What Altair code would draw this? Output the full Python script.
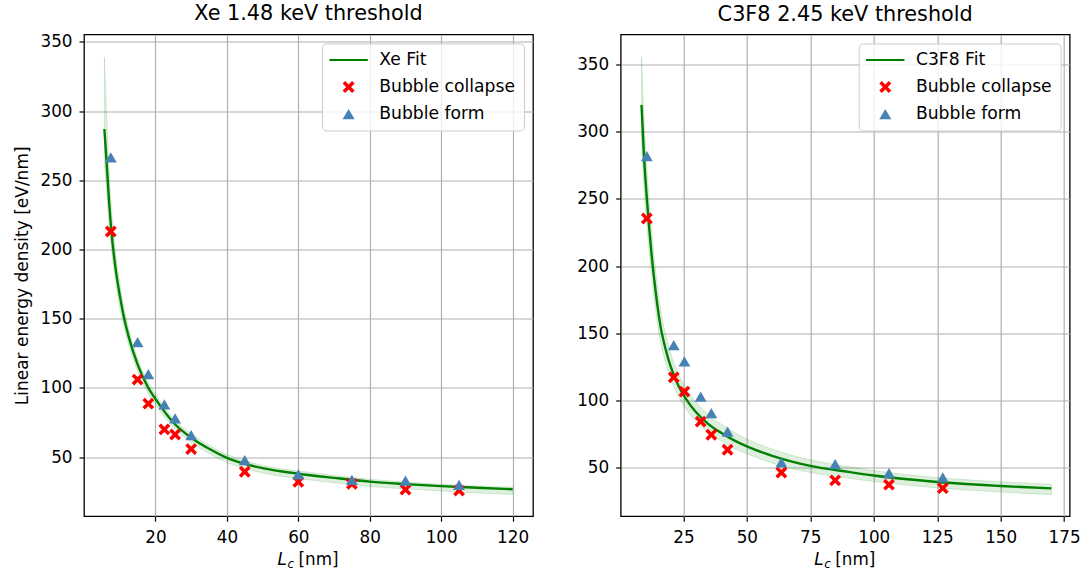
import altair as alt
import pandas as pd

# ---------------- data ----------------
xe_lc = [7.5, 15, 18, 22.5, 25.5, 30, 45, 60, 75, 90, 105]
xe_collapse = [213, 106, 88.6, 70, 66.3, 55.8, 39.4, 32.2, 30.6, 26.5, 25.8]
xe_form = [266.5, 133, 110, 88, 78, 65.8, 47.8, 37.5, 33.5, 33, 30]

xe_fit_x = [5.7, 6.3, 7.0, 7.5, 8.5, 10, 11.1, 12.5, 15, 18, 20, 25, 30, 35, 40, 50, 60, 70, 80, 90, 100, 110, 120]
xe_fit_y = [287, 264, 235, 218, 193, 167, 152, 137, 117, 100, 92, 75, 64, 56, 49.5, 42, 38, 35, 32.3, 30.5, 29, 27.8, 26.8]
xe_fit_hi = [339, 300, 259, 237, 206, 176, 159, 143, 121, 104, 95.5, 78, 67, 58.5, 52, 44, 40, 36.8, 34, 32, 30.4, 29.2, 28.2]
xe_fit_lo = [262, 243, 219, 205, 183, 158, 145, 131, 112, 95.5, 88, 71.5, 60.5, 52.5, 46, 38.5, 34.5, 31.5, 28.8, 27, 25.5, 24, 23]

c3_lc = [10.6, 21.2, 25.4, 31.8, 36.0, 42.4, 63.6, 84.8, 106.0, 127.2]
c3_collapse = [235.4, 117, 106.4, 84, 74.2, 63, 46.1, 40.2, 37, 34.4]
c3_form = [282, 141, 129, 102.7, 90.3, 76.6, 53.6, 52.3, 45.6, 42.4]

c3_fit_x = [8.5, 9.5, 10.5, 11.5, 12.5, 14, 16, 18, 20, 23, 26, 30, 35, 40, 45, 50, 60, 75, 90, 100, 125, 150, 170]
c3_fit_y = [320, 281, 253, 229, 208, 182, 155, 138, 125, 111, 101, 91, 82, 75.5, 70, 65.5, 58.5, 51, 46.5, 43.8, 39, 36, 34.2]
c3_fit_hi = [356, 310, 276, 249, 226, 198, 168, 149, 135, 120, 109, 98.5, 89, 82, 76, 71, 63.5, 55.5, 50.5, 47.5, 42.3, 39.2, 37.3]
c3_fit_lo = [292, 258, 233, 211, 192, 168, 143, 128, 116, 103, 93.5, 84, 75.5, 69.5, 64, 60, 53, 46, 41.8, 39.3, 34.6, 31.5, 29.5]

xe_ticks_x = [20, 40, 60, 80, 100, 120]
c3_ticks_x = [25, 50, 75, 100, 125, 150, 175]
ticks_y = [50, 100, 150, 200, 250, 300, 350]

FONT = "DejaVu Sans"
FS = 16.8
LINE_PATH = "M-3.2,-0.17H3.2V0.17H-3.2Z"
X_PATH = ("M-1,-0.58L-0.58,-1L0,-0.42L0.58,-1L1,-0.58L0.42,0L1,0.58L0.58,1"
          "L0,0.42L-0.58,1L-1,0.58L-0.42,0Z")


def panel(name, title, lc, collapse, form, fx, fy, fhi, flo, xdom, ydom, xticks, ytitle):
    fit_label = f"{name} Fit"
    domain = [fit_label, "Bubble collapse", "Bubble form"]
    pts = pd.DataFrame({
        "x": list(lc) + list(lc[:len(form)]),
        "y": list(collapse) + list(form),
        "series": ["Bubble collapse"] * len(collapse) + ["Bubble form"] * len(form),
    })
    fit = pd.DataFrame({"x": fx, "y": fy, "hi": fhi, "lo": flo})

    xs = alt.Scale(domain=xdom, nice=False, zero=False)
    ys = alt.Scale(domain=ydom, nice=False, zero=False)
    xax = alt.Axis(values=xticks, title=None)
    yax = alt.Axis(values=ticks_y, title=ytitle)

    band = alt.Chart(fit).mark_area(
        interpolate="monotone", clip=True, color="green", fillOpacity=0.13,
        stroke="green", strokeOpacity=0.14, strokeWidth=1
    ).encode(
        x=alt.X("x:Q", scale=xs, axis=xax),
        y=alt.Y("lo:Q", scale=ys, axis=yax),
        y2="hi:Q",
    )
    line = alt.Chart(fit).mark_line(
        interpolate="monotone", clip=True, color="#008000", strokeWidth=2.4
    ).encode(x="x:Q", y="y:Q")

    points = alt.Chart(pts).mark_point(filled=True, opacity=1, size=140, clip=True).encode(
        x="x:Q",
        y="y:Q",
        color=alt.Color(
            "series:N",
            scale=alt.Scale(domain=domain, range=["#008000", "#ff0000", "#4682b4"]),
            legend=alt.Legend(
                title=None, orient="top-right", offset=9, padding=8,
                symbolOffset=10, labelOffset=22, rowPadding=9,
                symbolSize=144, labelFontSize=17.2, labelFont=FONT, labelColor="black",
                fillColor="rgba(255,255,255,0.8)", strokeColor="#cccccc",
                cornerRadius=4, symbolStrokeWidth=0,
            ),
        ),
        shape=alt.Shape(
            "series:N",
            scale=alt.Scale(domain=domain, range=[LINE_PATH, X_PATH, "triangle-up"]),
        ),
    )

    cx = 449 / 2 - 31
    t_l = alt.Chart(pd.DataFrame({"t": ["L"]})).mark_text(
        font=FONT, fontSize=FS, fontStyle="italic", align="left", baseline="alphabetic", color="black"
    ).encode(text="t:N", x=alt.value(cx), y=alt.value(531))
    t_c = alt.Chart(pd.DataFrame({"t": ["c"]})).mark_text(
        font=FONT, fontSize=12, fontStyle="italic", align="left", baseline="alphabetic", color="black"
    ).encode(text="t:N", x=alt.value(cx + 10), y=alt.value(534))
    t_nm = alt.Chart(pd.DataFrame({"t": ["[nm]"]})).mark_text(
        font=FONT, fontSize=FS, align="left", baseline="alphabetic", color="black"
    ).encode(text="t:N", x=alt.value(cx + 21), y=alt.value(531))

    return alt.layer(band, line, points, t_l, t_c, t_nm).properties(
        width=449, height=481.7,
        title=alt.TitleParams(title, font=FONT, fontSize=20.8, fontWeight="normal",
                              color="black", offset=9, anchor="middle"),
    )


left = panel("Xe", "Xe 1.48 keV threshold", xe_lc, xe_collapse, xe_form,
             xe_fit_x, xe_fit_y, xe_fit_hi, xe_fit_lo,
             [0, 125.7], [7.3, 355.3], xe_ticks_x, "Linear energy density [eV/nm]")
right = panel("C3F8", "C3F8 2.45 keV threshold", c3_lc, c3_collapse, c3_form,
              c3_fit_x, c3_fit_y, c3_fit_hi, c3_fit_lo,
              [0.3, 177.2], [13.5, 372.6], c3_ticks_x, None)

chart = alt.hconcat(left, right, spacing=41.7).resolve_scale(
    color="independent", shape="independent", x="independent", y="independent"
).resolve_legend(color="independent", shape="independent").configure(
    font=FONT, padding={"left": 13, "top": 1.5, "right": 0, "bottom": 0}
).configure_view(
    stroke="black", strokeWidth=1.3
).configure_axis(
    domain=False, grid=True, gridColor="#b0b0b0", gridWidth=1.2,
    tickColor="black", tickSize=5, tickWidth=1.2,
    labelFont=FONT, labelFontSize=FS, labelColor="black", labelPadding=7,
    titleFont=FONT, titleFontSize=17, titleFontWeight="normal", titleColor="black", titlePadding=8,
    labelFlush=False, labelOverlap=False,
).configure_axisX(labelPadding=8)

chart.save("out.html", embed_options={"renderer": "svg", "actions": False})
